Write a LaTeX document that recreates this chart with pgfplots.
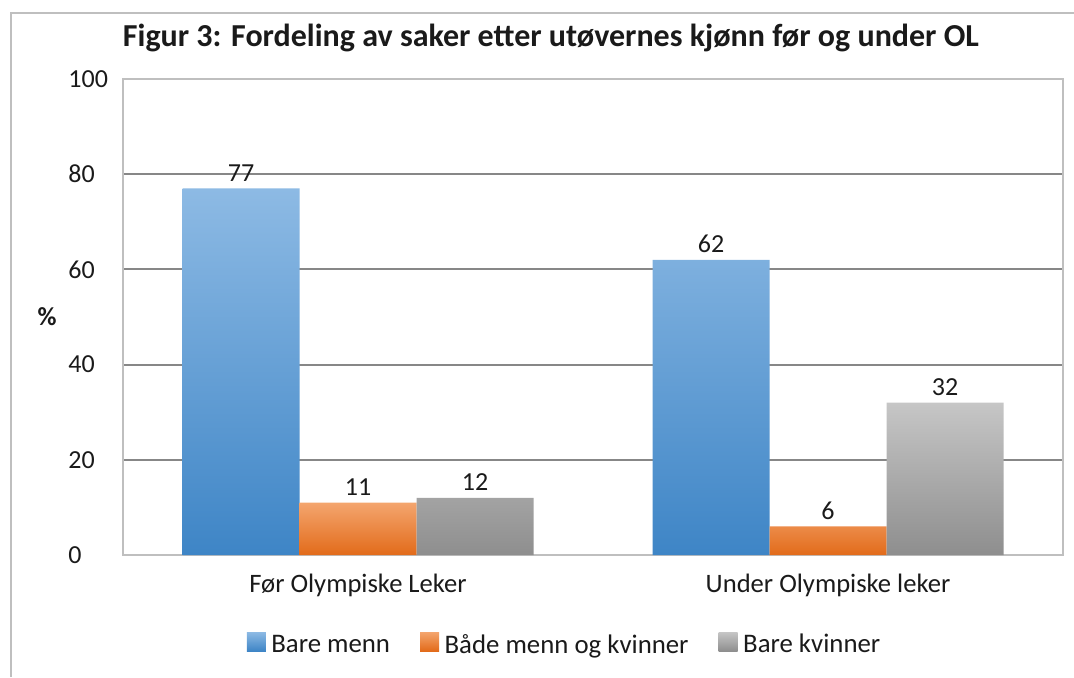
\documentclass[border=0pt]{standalone}
\usepackage{pgfplots}
\pgfplotsset{compat=1.18}
\usepackage{fontspec}
\setmainfont{Carlito}
\definecolor{gridc}{HTML}{878787}
\definecolor{framec}{HTML}{BFBFBF}
\definecolor{txt}{HTML}{1A1A1A}
\definecolor{blueT}{HTML}{8DBAE4}
\definecolor{blueB}{HTML}{3E85C6}
\definecolor{orT}{HTML}{F4A56E}
\definecolor{orB}{HTML}{E26B1A}
\definecolor{grT}{HTML}{C6C6C6}
\definecolor{grB}{HTML}{8E8E8E}
\begin{document}
\begin{tikzpicture}
\useasboundingbox (0,0) rectangle (537pt,338.5pt);
\draw[framec, line width=0.6pt] (5.5pt,0) -- (5.5pt,332pt) -- (537pt,332pt);
\node[font=\fontsize{16}{19}\selectfont\bfseries, text=txt] at (275.5pt,319.5pt) {Figur 3: Fordeling av saker etter utøvernes kjønn før og under OL};
\begin{axis}[
  at={(61.5pt,61pt)}, anchor=south west,
  scale only axis, width=470pt, height=238pt,
  xmin=-0.5, xmax=1.5, ymin=0, ymax=100,
  ytick={0,20,...,100}, xtick={0,1},
  xticklabels={Før Olympiske Leker, Under Olympiske leker},
  major tick length=0pt,
  ymajorgrids, grid style={gridc, line width=1pt},
  axis line style={framec, line width=0.6pt},
  tick label style={font=\fontsize{13.3}{15}\selectfont, text=txt},
  yticklabel style={anchor=west, inner sep=0pt, xshift=-27.5pt, font=\fontsize{13}{15}\selectfont},
  xticklabel style={anchor=base, inner sep=0pt, yshift=-18.5pt},
  /pgf/number format/assume math mode=true,
  ylabel={\%}, ylabel style={rotate=-90, at={(axis description cs:0,0.5)}, anchor=center, xshift=-38pt, font=\fontsize{13}{15}\selectfont\bfseries, text=txt},
  ybar=0pt, bar width=58.5pt,
  nodes near coords,
  every node near coord/.append style={anchor=base, inner sep=0pt, yshift=3.5pt, font=\fontsize{13}{15}\selectfont, text=txt},
  legend columns=3,
  legend style={at={(0.4697,0)}, anchor=center, yshift=-45pt, draw=none, fill=none,
    font=\fontsize{13.4}{15}\selectfont, text=txt,
    nodes={inner sep=1pt},
    /tikz/every even column/.append style={column sep=14pt},
    /tikz/every odd column/.append style={column sep=1.8pt}},
  legend image code/.code={\path[#1] (0pt,-3pt) rectangle (9.5pt,6.5pt);},
]
\addplot[draw=none, top color=blueT, bottom color=blueB] coordinates {(0,77) (1,62)};
\addplot[draw=none, top color=orT, bottom color=orB] coordinates {(0,11) (1,6)};
\addplot[draw=none, top color=grT, bottom color=grB] coordinates {(0,12) (1,32)};
\legend{Bare menn, Både menn og kvinner, Bare kvinner}
\end{axis}
\end{tikzpicture}
\end{document}
